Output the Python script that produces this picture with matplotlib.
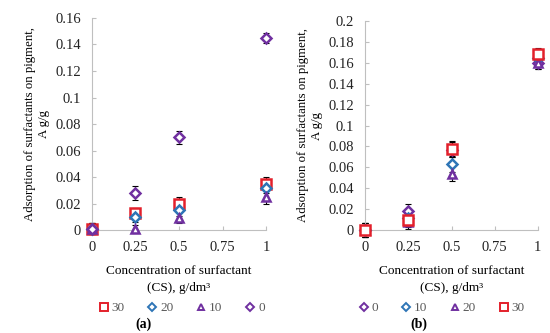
import matplotlib
matplotlib.use("Agg")
from matplotlib import pyplot as plt
from matplotlib.lines import Line2D

plt.rcParams['font.family'] = ['Liberation Serif', 'DejaVu Serif']

conc = [0, 0.25, 0.5, 1]

# panel (a)
a_names = ['30', '20', '10', '0']
a_vals = {
    '30': [0.001, 0.013, 0.020, 0.035],
    '20': [0.001, 0.010, 0.015, 0.032],
    '10': [0.001, 0.001, 0.009, 0.025],
    '0':  [0.001, 0.028, 0.070, 0.145],
}
a_err = {
    '30': [0.004, 0.004, 0.005, 0.005],
    '20': [0.004, 0.004, 0.004, 0.004],
    '10': [0.004, 0.003, 0.004, 0.005],
    '0':  [0.004, 0.005, 0.005, 0.004],
}

# panel (b)
b_names = ['0', '10', '20', '30']
b_vals = {
    '0':  [0.000, 0.018, 0.077, 0.160],
    '10': [0.000, 0.012, 0.063, 0.165],
    '20': [0.000, 0.008, 0.054, 0.160],
    '30': [0.000, 0.010, 0.078, 0.168],
}
b_err = {
    '0':  [0.007, 0.007, 0.007, 0.006],
    '10': [0.007, 0.007, 0.007, 0.006],
    '20': [0.007, 0.007, 0.007, 0.006],
    '30': [0.007, 0.007, 0.007, 0.006],
}

red = '#E3202B'
blue = '#2E75B6'
purple = '#7030A0'
style = {
    '30': dict(marker='s', color=red, ms=6.5),
    '20': dict(marker='D', color=blue, ms=5),
    '10': dict(marker='^', color=purple, ms=6),
    '0':  dict(marker='D', color=purple, ms=5),
}
style_b = {
    '0':  dict(marker='D', color=purple, ms=5),
    '10': dict(marker='D', color=blue, ms=5),
    '20': dict(marker='^', color=purple, ms=6),
    '30': dict(marker='s', color=red, ms=6.5),
}

fig = plt.figure(figsize=(5.5, 3.33), dpi=100)
ax1 = fig.add_axes([0.167, 0.309, 0.317, 0.637])
ax2 = fig.add_axes([0.664, 0.309, 0.314, 0.628])


def draw(ax, names, vals, errs, sty, ymax, yticks, ylabels):
    for n in names:
        s = sty[n]
        ax.errorbar(conc, vals[n], yerr=errs[n], fmt='none', ecolor='black',
                    elinewidth=0.8, capsize=2, capthick=0.8, clip_on=False, zorder=2)
        ax.plot(conc, vals[n], linestyle='none', marker=s['marker'], ms=s['ms'],
                mfc='white', mec=s['color'], mew=1.8, clip_on=False, zorder=3)
    ax.set_xlim(0, 1)
    ax.set_ylim(0, ymax)
    ax.set_xticks([0, 0.25, 0.5, 0.75, 1])
    ax.set_xticklabels(['0', '0.25', '0.5', '0.75', '1'])
    ax.set_yticks(yticks)
    ax.set_yticklabels(ylabels)
    for sp in ['top', 'right']:
        ax.spines[sp].set_visible(False)
    for sp in ['left', 'bottom']:
        ax.spines[sp].set_color('#BFBFBF')
        ax.spines[sp].set_linewidth(0.8)
    ax.tick_params(direction='in', length=3, color='#BFBFBF', labelsize=10.5,
                   labelcolor='#222222', pad=8)
    ax.set_xlabel('Concentration of surfactant\n(CS), g/dm\u00b3', fontsize=9.5,
                  linespacing=1.5, labelpad=8)
    ax.set_ylabel('Adsorption of surfactants on pigment,\nA g/g', fontsize=9.2,
                  linespacing=1.2, labelpad=4)


draw(ax1, a_names, a_vals, a_err, style, 0.16,
     [0, 0.02, 0.04, 0.06, 0.08, 0.1, 0.12, 0.14, 0.16],
     ['0', '0.02', '0.04', '0.06', '0.08', '0.1', '0.12', '0.14', '0.16'])
draw(ax2, b_names, b_vals, b_err, style_b, 0.2,
     [0, 0.02, 0.04, 0.06, 0.08, 0.1, 0.12, 0.14, 0.16, 0.18, 0.2],
     ['0', '0.02', '0.04', '0.06', '0.08', '0.1', '0.12', '0.14', '0.16', '0.18', '0.2'])


def legend_handles(names, sty):
    return [Line2D([], [], linestyle='none', marker=sty[n]['marker'],
                   ms=sty[n]['ms'] * 0.8, mfc='white', mec=sty[n]['color'], mew=1.4)
            for n in names]


fig.legend(legend_handles(a_names, style), a_names, loc='center',
           bbox_to_anchor=(181 / 550, 1 - 308 / 333), ncol=4, frameon=False,
           fontsize=9.5, labelcolor='#595959', handletextpad=0.1, columnspacing=1.6,
           handlelength=1.0)
fig.legend(legend_handles(b_names, style_b), b_names, loc='center',
           bbox_to_anchor=(441 / 550, 1 - 308 / 333), ncol=4, frameon=False,
           fontsize=9.5, labelcolor='#595959', handletextpad=0.1, columnspacing=1.6,
           handlelength=1.0)

fig.text(144 / 550, 1 - 324 / 333, '(a)', ha='center', va='center',
         fontsize=10, fontweight='bold')
fig.text(419 / 550, 1 - 324 / 333, '(b)', ha='center', va='center',
         fontsize=10, fontweight='bold')

fig.savefig('out.png', dpi=100)
